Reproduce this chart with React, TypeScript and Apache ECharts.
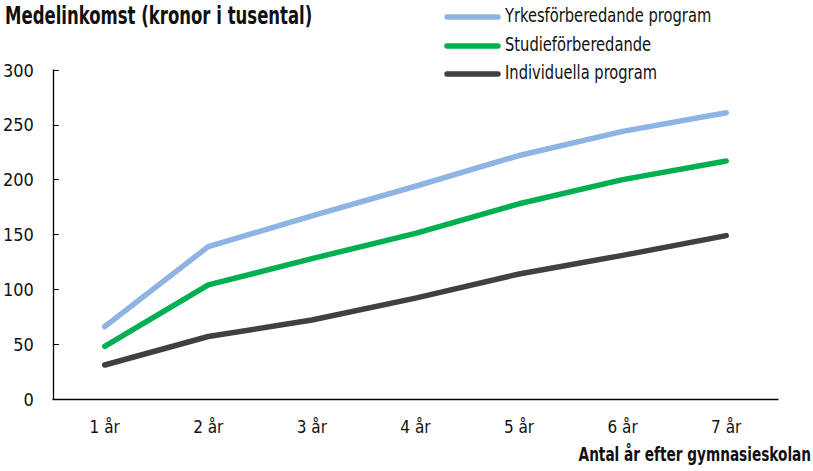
import React, { useEffect, useRef } from "react";
import * as echarts from "echarts";

const categories = ["1 år", "2 år", "3 år", "4 år", "5 år", "6 år", "7 år"];
const yrkes = [66, 139, 167, 194, 222, 244, 261];
const studie = [48, 104, 128, 151, 178, 200, 217];
const individ = [31, 57, 72, 92, 114, 131, 149];
const seriesNames = ["Yrkesförberedande program", "Studieförberedande", "Individuella program"];
const colors = ["#8EB4E3", "#00B050", "#404040"];
const titleText = "Medelinkomst (kronor i tusental)";
const xAxisName = "Antal år efter gymnasieskolan";

const FONT = "'DejaVu Sans Condensed', 'DejaVu Sans', sans-serif";

export default function App() {
  const ref = useRef<HTMLDivElement>(null);
  useEffect(() => {
    const chart = echarts.init(ref.current!, null, { renderer: "svg" });
    const data = [yrkes, studie, individ];
    const legendY = [17, 46, 74];
    const legendGraphics: any[] = [];
    seriesNames.forEach((n, i) => {
      legendGraphics.push({
        type: "line",
        shape: { x1: 447, y1: legendY[i], x2: 498, y2: legendY[i] },
        style: { stroke: colors[i], lineWidth: 5.5, lineCap: "round" },
        silent: true,
      });
      legendGraphics.push({
        type: "text",
        x: 505,
        y: legendY[i] - 1,
        scaleX: 0.86,
        style: {
          text: n,
          fill: "#111",
          fontFamily: FONT,
          fontSize: 19,
          align: "left",
          verticalAlign: "middle",
        },
      });
    });
    chart.setOption({
      animation: false,
      backgroundColor: "#ffffff",
      textStyle: { fontFamily: FONT },
      graphic: [
        {
          type: "text",
          x: 5,
          y: 16,
          scaleX: 0.765,
          style: {
            text: titleText,
            fill: "#111",
            fontFamily: FONT,
            fontSize: 24,
            fontWeight: "bold",
            align: "left",
            verticalAlign: "middle",
          },
        },
        {
          type: "text",
          x: 811,
          y: 454,
          scaleX: 0.8,
          style: {
            text: xAxisName,
            fill: "#111",
            fontFamily: FONT,
            fontSize: 19,
            fontWeight: "bold",
            align: "right",
            verticalAlign: "middle",
          },
        },
        ...legendGraphics,
      ],
      grid: { left: 52.5, right: 35, top: 70, bottom: 72, containLabel: false },
      xAxis: [
        {
          type: "category",
          data: categories,
          boundaryGap: true,
          axisLine: { lineStyle: { color: "#000", width: 1.3 } },
          axisTick: { inside: true, length: 6, lineStyle: { color: "#000" } },
          axisLabel: { fontFamily: FONT, fontSize: 17, color: "#111", margin: 19 },
        },
        {
          type: "category",
          data: categories,
          position: "bottom",
          boundaryGap: true,
          axisLine: { show: false },
          axisTick: { inside: false, length: 6, lineStyle: { color: "#000" } },
          axisLabel: { show: false },
        },
      ],
      yAxis: {
        type: "value",
        min: 0,
        max: 300,
        interval: 50,
        axisLine: { show: true, lineStyle: { color: "#000", width: 1.3 } },
        axisTick: { show: true, inside: true, length: 6, lineStyle: { color: "#000" } },
        axisLabel: { fontFamily: FONT, fontSize: 18, color: "#111", margin: 19 },
        splitLine: { show: false },
      },
      series: data.map((d, i) => ({
        name: seriesNames[i],
        type: "line",
        data: d,
        symbol: "none",
        lineStyle: { color: colors[i], width: 5.5, cap: "round", join: "round" },
        itemStyle: { color: colors[i] },
      })),
    });
    return () => chart.dispose();
  }, []);
  return <div ref={ref} style={{ width: 813, height: 471, position: "absolute", left: 0, top: 0 }} />;
}
